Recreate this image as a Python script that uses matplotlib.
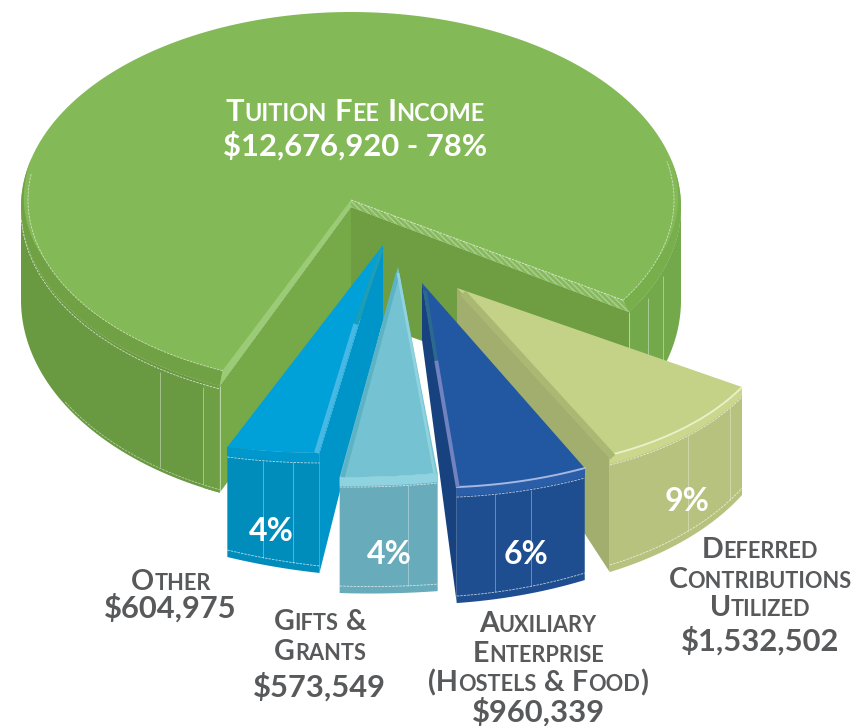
import matplotlib
matplotlib.use('Agg')
import matplotlib.pyplot as plt
import numpy as np
from matplotlib.patches import Polygon

# values
categories = ['Tuition Fee Income', 'Other', 'Gifts & Grants', 'Auxiliary Enterprise', 'Deferred Contributions Utilized']
amounts = [12676920, 604975, 573549, 960339, 1532502]
percent_labels = ['78%', '4%', '4%', '6%', '9%']
amount_labels = ['$12,676,920', '$604,975', '$573,549', '$960,339', '$1,532,502']

START_ANGLE = -32.6
GRAY = '#58595B'
plt.rcParams['font.family'] = ['Lato', 'DejaVu Sans']

fig = plt.figure(figsize=(8.56, 7.26), dpi=100)
ax = fig.add_axes([0, 0, 1, 1])
ax.set_xlim(0, 856)
ax.set_ylim(726, 0)
ax.axis('off')

# slice angles come from the amounts, going anticlockwise from the right edge of the gap
sweep = np.array(amounts) / sum(amounts) * 360
edges = START_ANGLE + np.concatenate([[0], np.cumsum(sweep)])
angles = list(zip(edges[:-1], edges[1:]))


def arc(center, m, t0, t1, r=1.0, n=80):
    t = np.radians(np.linspace(t0, t1, n))
    u = np.vstack([np.cos(t), -np.sin(t)]) * r
    return (np.array(center, float).reshape(2, 1) + np.array(m, float) @ u).T


def fill(pts, color, z, **kw):
    ax.add_patch(Polygon(pts, closed=True, facecolor=color, edgecolor=kw.pop('edge', 'none'),
                         linewidth=kw.pop('lw', 0), zorder=z, **kw))


def white_line(pts, z, lw=0.7, dashed=False, alpha=0.7):
    pts = np.asarray(pts)
    ax.plot(pts[:, 0], pts[:, 1], color='white', lw=lw, alpha=alpha, zorder=z,
            linestyle=(0, (3, 1.2)) if dashed else '-', solid_capstyle='butt')


# ---- big green slice
t0, t1 = angles[0]
green_c = (351, 200)
m_top = [[323, 0], [0, 186]]
m_rim = [[330, 0], [0, 195]]
rim_c = (351, 207)
m_low = [[330, 0], [0, 210]]
low_c = (351, 300)
TOP_GREEN = '#84B957'

left = arc(rim_c, m_rim, 180, t1)
left_low = arc(low_c, m_low, 180, t1)
fill(np.vstack([left, left_low[::-1]]), '#699941', 1)
right = arc(rim_c, m_rim, t0, 0)
right_low = arc(low_c, m_low, t0, 0)
fill(np.vstack([right, right_low[::-1]]), '#74A94B', 1)
near = arc(rim_c, m_rim, 243.4, t1)
near_low = arc(low_c, m_low, 243.4, t1)
fill(np.vstack([near, near_low[::-1]]), '#6F9F45', 1.1)

# inner walls of the gap
corner_l, corner_l_low = arc(rim_c, m_rim, t1, t1, n=1)[0], arc(low_c, m_low, t1, t1, n=1)[0]
corner_r, corner_r_low = arc(rim_c, m_rim, t0, t0, n=1)[0], arc(low_c, m_low, t0, t0, n=1)[0]
apex_low = (351, 316)
wall_top = (351, 207)
fill([wall_top, corner_l, corner_l_low, apex_low], '#76A948', 2)
fill([wall_top, corner_r, corner_r_low, apex_low], '#6E9E41', 2)

# top face, then the rim only round the near side, fading out above the widest point
fill(np.vstack([[rim_c], arc(rim_c, m_rim, t0, t1, n=300)]), TOP_GREEN, 3)
fill(np.vstack([[green_c], arc(green_c, m_top, t0, t1, n=300)]), TOP_GREEN, 4)


def rim_band(a, b, fade_at, color, z):
    outer = arc(rim_c, m_rim, a, b, n=120)
    inner = arc(green_c, m_top, a, b, n=120)
    w = np.clip(np.abs(np.linspace(a, b, 120) - fade_at) / 35, 0, 1).reshape(-1, 1)
    fill(np.vstack([outer, (outer + (inner - outer) * w)[::-1]]), color, z)


rim_band(165, t1, 165, '#70A145', 4.5)
rim_band(t0, 15, 15, '#78AE4C', 4.5)

inner_l = arc(green_c, m_top, t1, t1, n=1)[0]
inner_r = arc(green_c, m_top, t0, t0, n=1)[0]
fill([green_c, inner_l, corner_l, wall_top], '#9CCB78', 5)
ax.add_patch(Polygon([green_c, inner_r, corner_r, wall_top], closed=True, facecolor='#86B95C',
                     edgecolor='#A9D08E', hatch='\\\\\\\\\\\\', linewidth=0, zorder=5))
white_line([green_c, inner_r], 6, lw=0.6, dashed=True)
white_line(arc(green_c, m_top, 172, t1), 6, lw=0.6, dashed=True, alpha=0.6)
white_line(arc(green_c, m_top, t0, 12), 6, lw=0.6, dashed=True, alpha=0.6)

# dashed lines and seams on the outer side
for t in [234.6, 243.4, -25.8, -19]:
    a = arc(rim_c, m_rim, t, t, n=1)[0] + [0, 6]
    b = arc(low_c, m_low, t, t, n=1)[0]
    white_line([a, b - [0, 4]], 6, lw=0.6, alpha=0.45)
white_line(np.vstack([corner_l, corner_l_low]), 6, lw=0.6, alpha=0.6)
white_line(np.vstack([corner_r, corner_r_low]), 6, lw=0.6, alpha=0.6)
white_line(arc(rim_c, m_rim, 183, t1) + [0, 3], 6, lw=0.6, dashed=True, alpha=0.7)
white_line(arc(low_c, m_low, 210, t1) - [0, 3], 6, lw=0.6, dashed=True, alpha=0.5)

# ---- exploded slices: apex and view matrix per slice (index into categories)
slices = {
    4: dict(apex=(457, 288), m=[[321.8, 25.8], [1.3, 181.8]], front=(117, 108), back=50, side='left',
            top='#C3D287', face='#B6C27E', wall='#A1AE6E', rim='#CAD78C', shine='#F2F6D8',
            seams=[0.52, 0.88], z=10),
    1: dict(apex=(383, 245), m=[[412, 9], [-35, 205]], front=(110, 120), back=75, side='right',
            top='#00A1D9', face='#008DBC', wall='#0095C8', rim='#0098CC', shine=None,
            seams=[0.4, 0.73], z=12),
    2: dict(apex=(398, 267), m=[[445, 20.2], [-31.6, 207.7]], front=(116, 118), back=0, side=None,
            top='#74C2D2', face='#68ABBA', wall='#5FB4C6', rim='#8FD2E0', shine=None,
            seams=[0.7], z=13),
    3: dict(apex=(422, 283), m=[[362.5, 18.9], [-5.7, 204.5]], front=(116, 112), back=57, side='left',
            top='#2258A2', face='#1E4E90', wall='#17427F', rim='#2A5EA8', shine='#C4CDEE',
            seams=[0.3, 0.58], z=14),
}

for i, s in slices.items():
    a0, a1 = angles[i]
    apex = np.array(s['apex'], float)
    m = s['m']
    z = s['z']
    edge = arc(apex, m, a0, a1)
    depth = np.linspace(s['front'][0], s['front'][1], len(edge))
    low = edge + np.column_stack([np.zeros(len(edge)), depth])
    if s['side'] is not None:
        c, c_low = (edge[0], low[0]) if s['side'] == 'left' else (edge[-1], low[-1])
        fill([apex, c, c_low, apex + [0, s['back']]], s['wall'], z)
    fill(np.vstack([edge, low[::-1]]), s['face'], z + 0.1)
    fill(np.vstack([[apex], edge]), s['top'], z + 0.2)
    fill(np.vstack([edge, (edge + [0, 9])[::-1]]), s['rim'], z + 0.3)
    white_line(edge + [0, 10], z + 0.4, lw=0.6, dashed=True)
    white_line(low - [0, 7], z + 0.4, lw=0.6, dashed=True)
    for f in s['seams']:
        k = int(f * (len(edge) - 1))
        white_line([edge[k] + [0, 10], low[k] - [0, 7]], z + 0.4, lw=0.6, alpha=0.4)
    if s['shine']:
        ax.plot(edge[:, 0], edge[:, 1], color=s['shine'], lw=1.4, alpha=0.8, zorder=z + 0.5,
                solid_capstyle='round')

# bevel strips along the straight edges
s = slices[1]
a, b = arc(s['apex'], s['m'], angles[1][1], angles[1][1], r=0.38, n=1)[0], arc(s['apex'], s['m'], angles[1][1], angles[1][1], n=1)[0]
ax.plot([a[0] - 3, b[0] - 3], [a[1], b[1]], color='#45B9E4', lw=3.5, zorder=12.6, solid_capstyle='butt')
ax.plot([s['apex'][0] - 1, a[0] - 3], [s['apex'][1] + 4, a[1]], color='#1F9DB4', lw=2.5, zorder=12.6, solid_capstyle='butt')
s = slices[3]
a, b = arc(s['apex'], s['m'], angles[3][0], angles[3][0], r=0.38, n=1)[0], arc(s['apex'], s['m'], angles[3][0], angles[3][0], n=1)[0]
ax.plot([a[0] + 1, b[0] + 1], [a[1], b[1]], color='#7183BF', lw=2.8, zorder=14.6, solid_capstyle='butt')
ax.plot([s['apex'][0] + 3, a[0] + 1], [s['apex'][1] + 8, a[1]], color='#2B6A8E', lw=2.5, zorder=14.6, solid_capstyle='butt')
s = slices[2]
for k, col, w in [(0, '#5DB3C6', 3), (1, '#8FD3DF', 2)]:
    t = angles[2][k]
    e = arc(s['apex'], s['m'], t, t, n=1)[0]
    off = 3 if k == 0 else -3
    ax.plot([s['apex'][0], e[0] + off], [s['apex'][1] + 6, e[1]], color=col, lw=w, zorder=13.6, solid_capstyle='butt')
s = slices[4]
t = angles[4][0]
e = arc(s['apex'], s['m'], t, t, n=1)[0]
ax.plot([s['apex'][0] + 6, e[0] + 3], [s['apex'][1] + 5, e[1] + 2], color='#A9B873', lw=5, zorder=10.6, solid_capstyle='butt')


# ---- text
renderer = fig.canvas.get_renderer()


def small_caps(cx, cy, text, size, color=GRAY, ratio=0.76, z=30):
    """Centred small caps, built from runs of capitals and lowered capitals."""
    items = []
    total = 0
    for n, part in enumerate(text.split(' ')):
        if n:
            total += size * 0.36
            items.append((None, size * 0.36))
        runs = []
        for ch in part:
            small = ch.islower()
            if runs and runs[-1][1] == small:
                runs[-1][0] += ch
            else:
                runs.append([ch, small])
        for word, small in runs:
            fs = size * ratio if small else size
            t = ax.text(0, 0, word.upper(), fontsize=fs, fontweight='bold', color=color,
                        ha='left', va='baseline', zorder=z)
            w = renderer.get_text_width_height_descent(word.upper(), t.get_fontproperties(), False)[0]
            items.append((t, w))
            total += w
    # x positions in data units equal pixels here
    x = cx - total / 2
    for t, w in items:
        if t is not None:
            t.set_position((x, cy))
        x += w


def plain(cx, cy, text, size, color=GRAY, z=30):
    ax.text(cx, cy, text, fontsize=size, fontweight='bold', color=color, ha='center', va='baseline', zorder=z)


small_caps(355, 121, categories[0], 22.3, 'white')
plain(355, 156, amount_labels[0] + ' - ' + percent_labels[0], 22.3, 'white')

small_caps(171, 590, 'Other', 20.6)
plain(170, 618, amount_labels[1], 22.2)
small_caps(320, 630, 'Gifts &', 20.6)
small_caps(320, 660, 'Grants', 20.6)
plain(319, 697, amount_labels[2], 22.2)
small_caps(538, 632, 'Auxiliary', 20.6)
small_caps(538, 662, 'Enterprise', 20.6)
small_caps(538, 691, '(Hostels & Food)', 20.6)
plain(538, 722, amount_labels[3], 22.2)
small_caps(760, 558, 'Deferred', 20.6)
small_caps(760, 588, 'Contributions', 20.6)
small_caps(760, 616, 'Utilized', 20.6)
plain(760, 651, amount_labels[4], 22.2)

for i, (x, y) in {1: (271, 541), 2: (389, 564), 3: (526, 564), 4: (687, 511)}.items():
    ax.text(x, y, percent_labels[i], fontsize=23, fontweight='bold', color='white', ha='center', va='baseline', zorder=30)

fig.savefig('out.png', dpi=100, facecolor='white')
